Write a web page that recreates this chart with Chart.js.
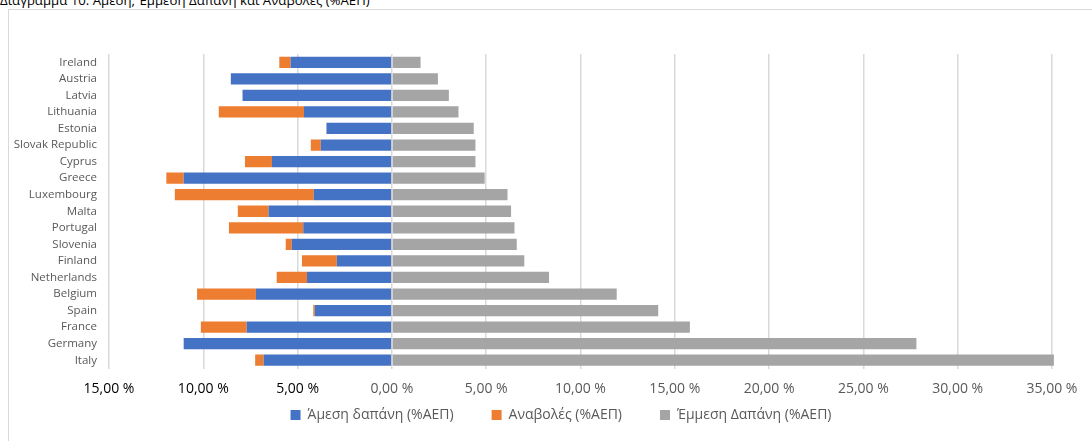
<!DOCTYPE html>
<html>
<head>
<meta charset="utf-8">
<script src="https://cdn.jsdelivr.net/npm/chart.js@4/dist/chart.umd.min.js"></script>
<style>
  html, body { margin: 0; padding: 0; background: #fff; overflow: hidden; width: 1092px; height: 441px; }
  #title { position: absolute; left: 0; top: -9px; font: 13.2px "Open Sans", sans-serif; color: #000; white-space: nowrap; line-height: 18px; }
  #frame { position: absolute; left: 8px; top: 9px; width: 1200px; height: 600px; border: 1px solid #d9d9d9; }
  #chart { position: absolute; left: 0; top: 0; }
</style>
</head>
<body>
<div id="title">Διάγραμμα 10: Άμεση, Έμμεση Δαπάνη και Αναβολές (%ΑΕΠ)</div>
<div id="frame"><canvas id="chart" width="1104" height="431"></canvas></div>
<script>
// Χώρες (από πάνω προς τα κάτω)
var countries = ["Ireland", "Austria", "Latvia", "Lithuania", "Estonia", "Slovak Republic", "Cyprus", "Greece",
  "Luxembourg", "Malta", "Portugal", "Slovenia", "Finland", "Netherlands", "Belgium", "Spain", "France", "Germany", "Italy"];

// Άμεση δαπάνη (%ΑΕΠ) - αρνητική πλευρά
var directSpending = [-5.37, -8.54, -7.92, -4.66, -3.47, -3.77, -6.36, -11.04, -4.14, -6.54,
  -4.70, -5.31, -2.92, -4.50, -7.21, -4.09, -7.70, -11.04, -6.80];

// Αναβολές (%ΑΕΠ) - συνέχεια της αρνητικής στοίβας
var deferrals = [-0.60, 0, 0, -4.52, 0, -0.53, -1.43, -0.92, -7.37, -1.63,
  -3.94, -0.32, -1.85, -1.61, -3.12, -0.08, -2.43, 0, -0.45];

// Έμμεση Δαπάνη (%ΑΕΠ)
var indirectSpending = [1.52, 2.44, 3.02, 3.53, 4.34, 4.43, 4.43, 4.92, 6.13, 6.32,
  6.50, 6.62, 7.02, 8.33, 11.92, 14.12, 15.80, 27.81, 35.1];

var seriesNames = ["Άμεση δαπάνη (%ΑΕΠ)", "Αναβολές (%ΑΕΠ)", "Έμμεση Δαπάνη (%ΑΕΠ)"];
var axisMin = -15, axisMax = 35, axisStep = 5;

var ctx = document.getElementById("chart").getContext("2d");
var chart = new Chart(ctx, {
  type: "bar",
  data: {
    labels: countries,
    datasets: [
      { label: seriesNames[0], data: directSpending, backgroundColor: "#4472C4", yAxisID: "y" },
      { label: seriesNames[1], data: deferrals, backgroundColor: "#ED7D31", yAxisID: "y" },
      { label: seriesNames[2], data: indirectSpending, backgroundColor: "#A5A5A5", yAxisID: "y", clip: 4 }
    ]
  },
  options: {
    indexAxis: "y",
    responsive: false,
    animation: false,
    datasets: { bar: { categoryPercentage: 0.68, barPercentage: 1 } },
    layout: { padding: { top: 44, bottom: 9, left: 0, right: 0 } },
    plugins: {
      title: { display: false },
      tooltip: { enabled: false },
      legend: {
        display: true,
        position: "bottom",
        labels: {
          boxWidth: 10,
          boxHeight: 10,
          padding: 10,
          color: "#595959",
          font: { family: "'Open Sans', sans-serif", size: 14 },
          // κενό ανάμεσα στα στοιχεία του υπομνήματος, όπως στο Excel
          generateLabels: function (chart) {
            var items = Chart.defaults.plugins.legend.labels.generateLabels(chart);
            items.forEach(function (item, i) {
              if (i < items.length - 1) item.text = item.text + "\u2002\u2002\u2002\u2002";
            });
            return items;
          }
        }
      }
    },
    scales: {
      x: {
        stacked: true,
        min: axisMin,
        max: axisMax,
        afterFit: function (scale) { scale.height = 29.5; },
        grid: { color: "#d9d9d9", lineWidth: 1.5, drawTicks: false },
        border: { display: false },
        ticks: {
          stepSize: axisStep,
          padding: 12.5,
          maxRotation: 0,
          color: function (c) { return c.tick && c.tick.value < 0 ? "#000000" : "#595959"; },
          font: { family: "'Open Sans', sans-serif", size: 14 },
          callback: function (v) { return Math.abs(v).toFixed(2).replace(".", ",") + " %"; }
        }
      },
      y: {
        stacked: true,
        afterFit: function (scale) { scale.width = 100; },
        grid: { display: false, drawTicks: false },
        border: { display: false },
        ticks: {
          padding: 12,
          autoSkip: false,
          color: "#595959",
          font: { family: "'Open Sans', sans-serif", size: 11.5 }
        }
      },
      yR: {
        type: "category",
        position: "right",
        afterFit: function (scale) { scale.width = 61; },
        grid: { display: false, drawTicks: false },
        border: { display: false },
        ticks: { display: false }
      }
    }
  }
});
</script>
</body>
</html>
